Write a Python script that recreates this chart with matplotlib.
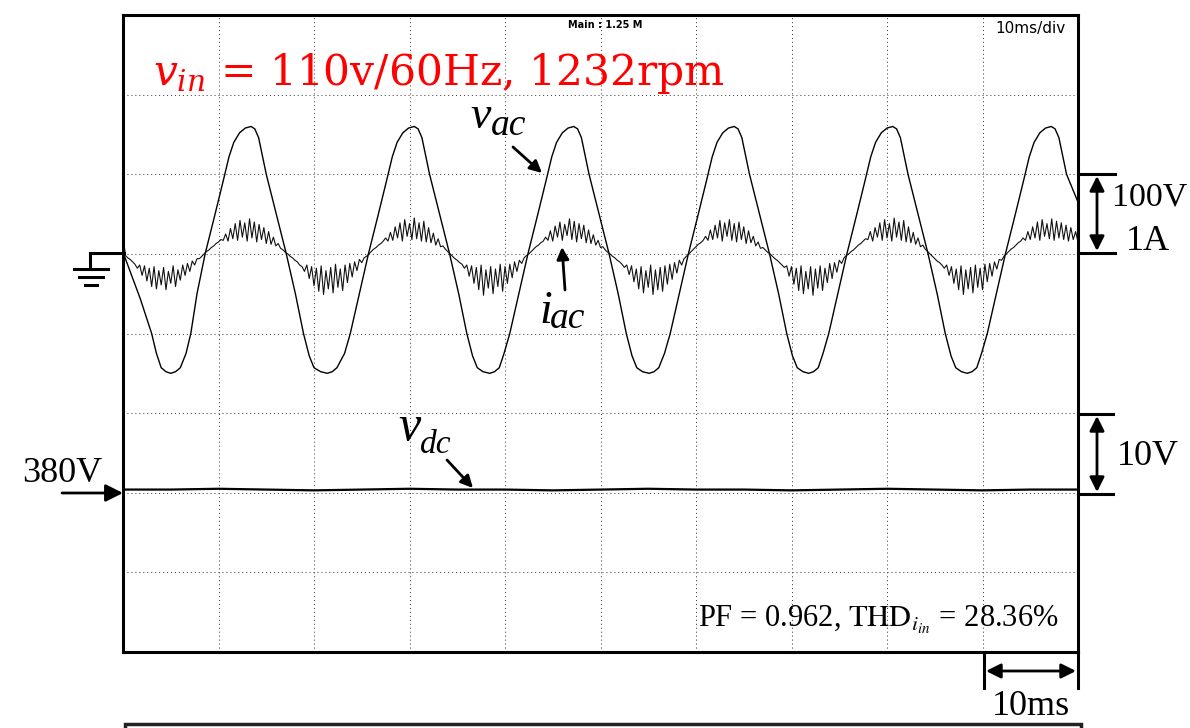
import numpy as np
import matplotlib.pyplot as plt
from matplotlib.patches import FancyArrowPatch, Rectangle
from matplotlib.lines import Line2D

W, H = 1190, 728

# ---- scope traces ----
# ch1: line voltage v_ac [ms, V]
vac_t = [0.0, 1.8, 3.0, 3.5, 4.0, 4.5, 5.0, 5.5, 6.0, 6.6, 7.1, 7.75,
         8.6, 9.6, 10.5, 11.1, 11.6, 12.2, 12.8, 13.4, 13.8, 14.2, 15.0, 16.05,
         17.1, 18.05, 18.9, 19.5, 20.0, 20.7, 21.4, 21.9, 22.4, 23.2, 23.8, 24.75,
         25.7, 26.7, 27.6, 28.2, 28.7, 29.3, 29.9, 30.5, 30.9, 31.3, 32.1, 33.15,
         34.2, 35.15, 36.0, 36.6, 37.1, 37.7, 38.4, 38.9, 39.4, 39.9, 40.5, 41.45,
         42.4, 43.4, 44.3, 44.9, 45.4, 46.0, 46.6, 47.2, 47.6, 48.0, 48.8, 49.85,
         50.9, 51.85, 52.7, 53.3, 53.8, 54.4, 55.1, 55.6, 56.1, 56.7, 57.3, 58.25,
         59.2, 60.2, 61.1, 61.7, 62.2, 62.8, 63.4, 64.0, 64.4, 64.8, 65.6, 66.65,
         67.7, 68.65, 69.5, 70.1, 70.6, 71.2, 71.8, 72.3, 72.8, 73.3, 73.9, 74.85,
         75.8, 76.8, 77.7, 78.3, 78.8, 79.4, 80.0, 80.6, 81.0, 81.4, 82.2, 83.25,
         84.3, 85.25, 86.1, 86.7, 87.2, 87.8, 88.4, 88.9, 89.4, 89.9, 90.5, 91.45,
         92.4, 93.4, 94.3, 94.9, 95.4, 96.0, 96.6, 97.2, 97.6, 98.0, 98.8, 100.0]
vac_v = [2, -56, -100, -125, -143, -148, -150, -148, -143, -125, -100, -50,
         0, 48, 92, 122, 140, 152, 158, 160, 157, 146, 100, 50,
         0, -50, -100, -128, -143, -148, -150, -148, -143, -125, -100, -50,
         0, 48, 92, 122, 140, 152, 158, 160, 157, 146, 100, 50,
         0, -50, -100, -128, -143, -148, -150, -148, -143, -125, -100, -50,
         0, 48, 92, 122, 140, 152, 158, 160, 157, 146, 100, 50,
         0, -50, -100, -128, -143, -148, -150, -148, -143, -125, -100, -50,
         0, 48, 92, 122, 140, 152, 158, 160, 157, 146, 100, 50,
         0, -50, -100, -128, -143, -148, -150, -148, -143, -125, -100, -50,
         0, 48, 92, 122, 140, 152, 158, 160, 157, 146, 100, 50,
         0, -50, -100, -128, -143, -148, -150, -148, -143, -125, -100, -50,
         0, 48, 92, 122, 140, 152, 158, 160, 157, 146, 100, 65]

# ch2: line current i_ac [A], one sample every 0.25 ms
iac_dt = 0.25
iac_a = [
    0.24, -0.02, -0.05, -0.07, -0.10, -0.13, -0.18, -0.14, -0.27, -0.15, -0.34, -0.18, -0.41, -0.16, -0.44, -0.21, -0.39,
    -0.17, -0.45, -0.22, -0.37, -0.15, -0.41, -0.20, -0.33, -0.14, -0.27, -0.12, -0.22, -0.09, -0.14, -0.06, -0.06, -0.03,
    0.00, 0.03, 0.05, 0.08, 0.10, 0.13, 0.15, 0.18, 0.17, 0.25, 0.16, 0.32, 0.19, 0.38, 0.17, 0.42, 0.21, 0.39,
    0.16, 0.44, 0.20, 0.40, 0.15, 0.37, 0.18, 0.33, 0.13, 0.28, 0.12, 0.21, 0.10, 0.13, 0.07, 0.05, 0.02,
    0.00, -0.03, -0.05, -0.08, -0.10, -0.14, -0.16, -0.22, -0.14, -0.31, -0.16, -0.40, -0.18, -0.47, -0.15, -0.51, -0.21,
    -0.44, -0.17, -0.49, -0.13, -0.42, -0.19, -0.46, -0.14, -0.36, -0.12, -0.29, -0.10, -0.21, -0.07, -0.11, -0.05, -0.03,
    0.00, 0.03, 0.06, 0.08, 0.11, 0.13, 0.16, 0.20, 0.16, 0.27, 0.17, 0.34, 0.20, 0.39, 0.16, 0.43, 0.22,
    0.38, 0.18, 0.45, 0.19, 0.39, 0.16, 0.41, 0.15, 0.33, 0.14, 0.26, 0.11, 0.19, 0.09, 0.10, 0.06, 0.03,
    0.00, -0.03, -0.06, -0.08, -0.11, -0.13, -0.18, -0.14, -0.28, -0.15, -0.37, -0.17, -0.45, -0.14, -0.52, -0.20, -0.43,
    -0.16, -0.50, -0.19, -0.41, -0.13, -0.47, -0.16, -0.37, -0.13, -0.30, -0.10, -0.22, -0.08, -0.12, -0.05, -0.02,
    0.00, 0.03, 0.06, 0.09, 0.11, 0.14, 0.16, 0.21, 0.17, 0.29, 0.16, 0.35, 0.21, 0.40, 0.17, 0.37, 0.23,
    0.44, 0.18, 0.41, 0.15, 0.38, 0.19, 0.36, 0.14, 0.30, 0.13, 0.24, 0.11, 0.17, 0.08, 0.09, 0.05, 0.02,
    0.00, -0.03, -0.05, -0.08, -0.10, -0.13, -0.17, -0.14, -0.26, -0.15, -0.35, -0.19, -0.44, -0.16, -0.49, -0.21, -0.42,
    -0.14, -0.51, -0.20, -0.45, -0.17, -0.47, -0.15, -0.38, -0.13, -0.32, -0.11, -0.24, -0.08, -0.14, -0.06, -0.03,
    0.00, 0.03, 0.06, 0.09, 0.12, 0.14, 0.17, 0.22, 0.17, 0.30, 0.18, 0.36, 0.20, 0.42, 0.16, 0.39, 0.22,
    0.43, 0.17, 0.38, 0.15, 0.40, 0.18, 0.34, 0.13, 0.29, 0.14, 0.22, 0.10, 0.15, 0.07, 0.08, 0.05, 0.02,
    0.00, -0.03, -0.06, -0.08, -0.11, -0.14, -0.17, -0.15, -0.28, -0.16, -0.38, -0.18, -0.46, -0.15, -0.50, -0.22, -0.44,
    -0.16, -0.52, -0.19, -0.43, -0.15, -0.46, -0.18, -0.36, -0.12, -0.31, -0.11, -0.23, -0.08, -0.12, -0.05, -0.02,
    0.00, 0.03, 0.05, 0.08, 0.11, 0.13, 0.16, 0.19, 0.18, 0.28, 0.16, 0.33, 0.21, 0.39, 0.17, 0.43, 0.20,
    0.38, 0.16, 0.45, 0.21, 0.40, 0.17, 0.42, 0.15, 0.34, 0.14, 0.27, 0.12, 0.20, 0.09, 0.11, 0.06, 0.03,
    0.00, -0.03, -0.06, -0.09, -0.11, -0.14, -0.18, -0.14, -0.27, -0.16, -0.37, -0.19, -0.45, -0.15, -0.51, -0.20,
    -0.44, -0.17, -0.49, -0.14, -0.42, -0.18, -0.45, -0.13, -0.35, -0.12, -0.28, -0.10, -0.19, -0.07, -0.08, -0.03,
    0.00, 0.03, 0.06, 0.08, 0.11, 0.14, 0.16, 0.20, 0.17, 0.28, 0.18, 0.34, 0.20, 0.40, 0.17, 0.43,
    0.22, 0.38, 0.19, 0.44, 0.17, 0.41, 0.20, 0.39, 0.18, 0.36, 0.16, 0.33, 0.18, 0.28, 0.15,
]

# ch3: dc link voltage v_dc [ms, V]
vdc_t = [0, 5, 10, 15, 20, 25, 30, 35, 40, 45, 50, 55, 60, 65, 70, 75, 80, 85, 90, 95, 100]
vdc_v = [380.4, 380.4, 380.5, 380.4, 380.3, 380.4, 380.5, 380.4, 380.4, 380.3, 380.4,
         380.5, 380.4, 380.4, 380.3, 380.4, 380.5, 380.4, 380.3, 380.4, 380.4]

# scope channel settings (divisions counted from the bottom of the screen)
AC_V_DIV = 100.0
AC_A_DIV = 1.0
DC_V_DIV = 10.0
AC_GND = 5.0
DC_REF = 2.0
DC_OFFSET = 380.0


def px(x, y):
    # pixel position (from top-left) -> figure fraction
    return x / W, 1 - y / H


fig = plt.figure(figsize=(W / 100, H / 100), dpi=100)
ax = fig.add_axes([123 / W, 1 - 652 / H, 955 / W, 637 / H])
ax.set_xlim(0, 100)
ax.set_ylim(0, 8)
ax.set_xticks(np.arange(0, 101, 10))
ax.set_yticks(np.arange(0, 9, 1))
ax.tick_params(length=0, labelbottom=False, labelleft=False)
ax.grid(True, color='#444444', linestyle=(0, (1, 2.8)), linewidth=0.75)
for s in ax.spines.values():
    s.set_linewidth(2.2)

ax.plot(vac_t, AC_GND + np.array(vac_v) / AC_V_DIV, color='k', lw=1.0)
t_i = np.arange(len(iac_a)) * iac_dt
ax.plot(t_i, AC_GND + np.array(iac_a) / AC_A_DIV, color='#111111', lw=0.8)
ax.plot(vdc_t, DC_REF + (np.array(vdc_v) - DC_OFFSET) / DC_V_DIV, color='k', lw=1.6)

# scope screen labels
fig.text(*px(605, 28), 'Main : 1.25 M', fontsize=7, fontweight='bold', ha='center')
fig.text(*px(995, 33), '10ms/div', fontsize=11,
         family=['Liberation Sans Narrow', 'DejaVu Sans'])

fig.text(*px(153, 85), r'$v_{in}$ = 110v/60Hz, 1232rpm', color='red', fontsize=30.5,
         family='DejaVu Serif', math_fontfamily='dejavuserif')

serif = 'Liberation Serif'


def sym(x, y, main, sub, size, sub_dx, sub_dy, sub_size):
    fig.text(*px(x, y), main, family=serif, style='italic', fontsize=size)
    fig.text(*px(x + sub_dx, y + sub_dy), sub, family=serif, style='italic', fontsize=sub_size)


sym(470, 128, 'v', 'ac', 33, 21, 7, 27)
sym(539, 323, 'i', 'ac', 33, 11, 5, 27)
sym(398, 440, 'v', 'dc', 36, 22, 13, 24)


def arrow(p0, p1, style='-|>', ms=18, lw=2.0):
    fig.add_artist(FancyArrowPatch(px(*p0), px(*p1), transform=fig.transFigure,
                                   arrowstyle=style, mutation_scale=ms, lw=lw,
                                   color='k', shrinkA=0, shrinkB=0))


def line(xs, ys, lw=2.2):
    fig.add_artist(Line2D([x / W for x in xs], [1 - y / H for y in ys],
                          transform=fig.transFigure, color='k', lw=lw))


arrow((513, 147), (542, 173))
arrow((565, 290), (562, 247))
arrow((447, 460), (473, 488))

# 380V marker
fig.text(*px(22, 482), '380V', family=serif, fontsize=26)
arrow((62, 493), (123, 493), ms=26)

# ground marker
line([90, 124], [253, 253])
line([90, 90], [253, 269])
line([74, 108], [269, 269])
line([79, 103], [277, 277])
line([85, 97], [285, 285])

# 100V / 1A scale
line([1078, 1115], [174, 174])
line([1078, 1115], [253, 253])
arrow((1097, 176), (1097, 251), style='<|-|>', ms=22)
fig.text(*px(1112, 205), '100V', family=serif, fontsize=24.5)
fig.text(*px(1126, 250), '1A', family=serif, fontsize=26)

# 10V scale
line([1078, 1113], [414, 414])
line([1078, 1113], [494, 494])
arrow((1097, 416), (1097, 492), style='<|-|>', ms=22)
fig.text(*px(1117, 465), '10V', family=serif, fontsize=26)

# 10ms time scale
line([984, 984], [653, 688])
line([1078, 1078], [653, 688])
arrow((986, 671), (1076, 671), style='<|-|>', ms=22)
fig.text(*px(1031, 715), '10ms', family=serif, fontsize=26, ha='center')

fig.text(*px(698, 627), r'PF = 0.962, $\mathrm{THD}_{i_{in}}$ = 28.36%', family=serif,
         fontsize=22, math_fontfamily='stix')

# edge of the next figure panel
fig.add_artist(Rectangle(px(125, 780), 956 / W, 56 / H, fill=False, lw=2.5,
                         edgecolor='#222222', transform=fig.transFigure))

fig.savefig('out.png', dpi=100)
